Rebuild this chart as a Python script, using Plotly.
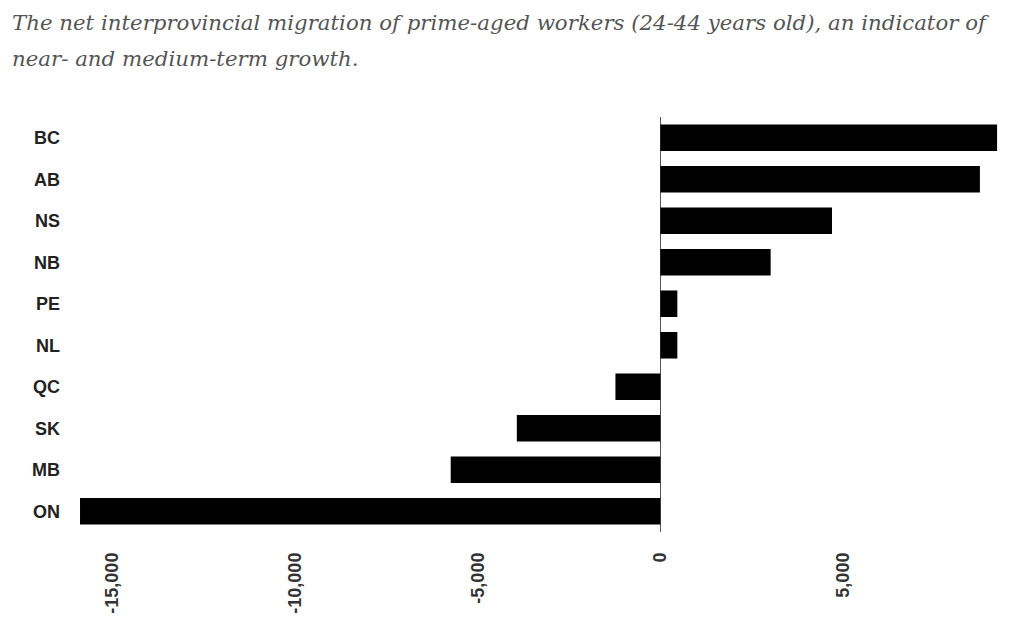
import plotly.graph_objects as go

provinces = ["BC", "AB", "NS", "NB", "PE", "NL", "QC", "SK", "MB", "ON"]
net_migration = [9220, 8750, 4700, 3020, 465, 465, -1230, -3930, -5740, -15890]
tick_values = [-15000, -10000, -5000, 0, 5000]
tick_labels = ["-15,000", "-10,000", "-5,000", "0", "5,000"]
title_line1 = "The net interprovincial migration of prime-aged workers (24-44 years old), an indicator of"
title_line2 = "near- and medium-term growth."

fig = go.Figure(
    go.Bar(
        x=net_migration,
        y=provinces,
        orientation="h",
        marker=dict(color="#000000", line=dict(width=0)),
        width=0.64,
    )
)

# page has an 8px body margin; figure sized so the page does not overflow
W, H = 1008, 609
OFF = 8
L, R, T, B = 68, 16, 109, 85
plot_w = W - L - R
plot_h = H - T - B

def xpaper(page_x):
    return (page_x - OFF - L) / plot_w

def ypaper(page_y):
    return (H - B - (page_y - OFF)) / plot_h

fig.update_layout(
    width=W,
    height=H,
    margin=dict(l=L, r=R, t=T, b=B, autoexpand=False),
    paper_bgcolor="white",
    plot_bgcolor="white",
    showlegend=False,
    xaxis=dict(
        range=[-16000, 9300],
        tickvals=tick_values,
        ticktext=tick_labels,
        tickangle=-90,
        tickfont=dict(family="Liberation Sans, Arial, sans-serif", size=18, color="#333333", weight="bold"),
        showgrid=False,
        zeroline=True,
        zerolinecolor="#555555",
        zerolinewidth=1,
        showline=False,
        ticks="",
        ticklabelstandoff=16,
        automargin=False,
        fixedrange=True,
    ),
    yaxis=dict(
        categoryorder="array",
        categoryarray=provinces,
        autorange="reversed",
        tickfont=dict(family="Liberation Sans, Arial, sans-serif", size=18, color="#222222", weight="bold"),
        showgrid=False,
        zeroline=False,
        showline=False,
        ticks="",
        ticklabelstandoff=15,
        automargin=False,
        fixedrange=True,
    ),
    annotations=[
        dict(
            text="<i>" + title_line1 + "</i>",
            xref="paper", yref="paper",
            x=xpaper(10), y=ypaper(23),
            xanchor="left", yanchor="middle",
            showarrow=False,
            font=dict(family="DejaVu Serif, serif", size=21.3, color="#555555"),
        ),
        dict(
            text="<i>" + title_line2 + "</i>",
            xref="paper", yref="paper",
            x=xpaper(10), y=ypaper(58),
            xanchor="left", yanchor="middle",
            showarrow=False,
            font=dict(family="DejaVu Serif, serif", size=21.3, color="#555555"),
        ),
    ],
)

fig.write_html("out.html")
